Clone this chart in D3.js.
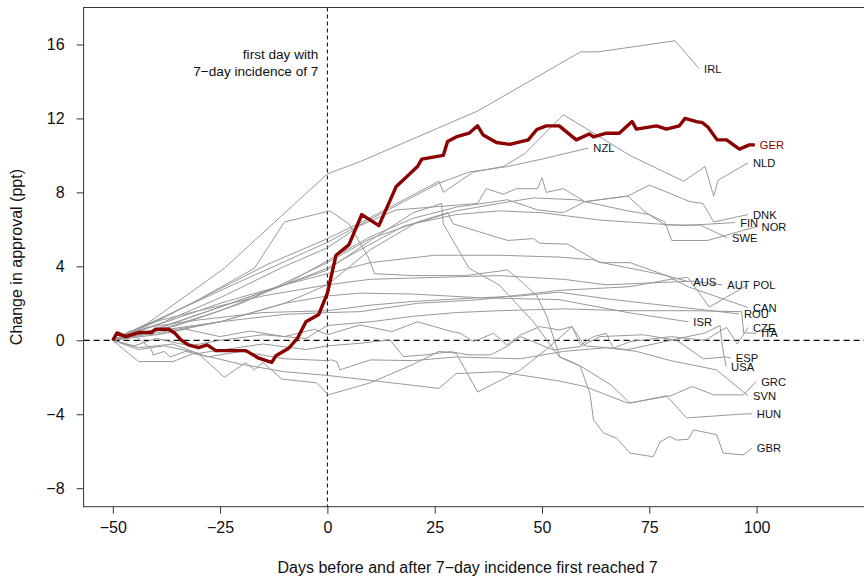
<!DOCTYPE html>
<html>
<head>
<meta charset="utf-8">
<script src="https://cdn.jsdelivr.net/npm/d3@7"></script>
<style>
  body { margin: 0; background: #fff; }
  text { font-family: "Liberation Sans", Arial, Helvetica, sans-serif; }
</style>
</head>
<body>
<script>
// approval change (ppt) by day relative to first day with 7-day incidence of 7
const GER = [[-50,0],[-49,0.4],[-47,0.2],[-44,0.42],[-41,0.42],[-40,0.6],[-37,0.6],[-35.5,0.38],[-34,0],[-32.4,-0.25],[-30,-0.4],[-28,-0.25],[-26,-0.56],[-19,-0.56],[-16,-0.97],[-13,-1.2],[-12,-0.84],[-9,-0.43],[-7,0.1],[-5,1.0],[-2,1.4],[0,2.55],[2,4.6],[5,5.16],[8,6.8],[12,6.2],[16,8.3],[21,9.4],[22,9.8],[27,10.0],[28,10.75],[30,11.0],[33,11.2],[35,11.6],[36.3,11.1],[39.4,10.7],[42.5,10.6],[46.8,10.84],[48.8,11.4],[51,11.6],[54,11.6],[58,10.84],[61,11.16],[62,11.0],[65,11.2],[68,11.2],[71,11.83],[72,11.42],[76.7,11.6],[79,11.42],[82,11.6],[83.3,12.0],[86,11.83],[87.4,11.77],[88.7,11.52],[90.8,10.84],[93,10.84],[96,10.34],[98.3,10.57],[99.6,10.57]];
const IRL = [[-50,0],[-42,0.9],[-24,3.9],[0,9.0],[8,9.7],[35,12.4],[59,15.6],[63,15.6],[81,16.2],[86.6,14.7]];
const NLD = [[-50,0],[-40,1.0],[-14,4.1],[0,5.5],[8,6.4],[26,8.6],[27,8.0],[34,9.1],[41,9.4],[46,10.1],[55,12.2],[70.5,10.0],[83,8.6],[88,9.4],[90,7.8],[91,8.65],[98,9.6]];
const NZL = [[-50,0],[-37,1.4],[-22,3.0],[0,5.3],[8,6.3],[26,8.5],[33,9.1],[42,9.4],[50,9.8],[60.8,10.4]];
const DNK = [[-50,0],[-38,1.0],[-25,2.3],[-10,4.0],[0,5.0],[7.6,6.2],[16,7.05],[35,7.4],[37,8.2],[41,7.9],[44,8.2],[49,8.2],[50,8.8],[51,8.0],[55,8.2],[60,7.5],[70,7.8],[75,8.4],[84.5,7.5],[87.5,7.4],[90,6.4],[98,6.8]];
const FIN = [[-50,0],[-40,0.6],[-25,1.8],[-10,3.0],[0,3.9],[10,5.2],[18,6.2],[30,6.8],[40,7.0],[50,6.9],[63.6,6.5],[83,6.2],[95,6.37]];
const NOR = [[-50,0],[-35,0.8],[-20,2.0],[0,4.2],[10,5.5],[20,6.3],[30,7.0],[40,7.4],[48,7.7],[58,7.6],[70,7.0],[75,6.8],[78.6,6.4],[80.2,5.4],[88.6,5.4],[100,6.15]];
const SWE = [[-50,0],[-40,0.5],[-25,1.6],[-10,3.0],[0,4.3],[10,5.6],[20,6.6],[30,7.2],[42,7.6],[49,7.05],[55,6.9],[60,7.5],[70,7.8],[74,6.95],[78.6,6.24],[86.8,6.24],[93.1,5.55]];
const AUS = [[-50,0],[-40,0.3],[-25,1.0],[-10,2.0],[0,3.0],[10,4.9],[21,6.4],[28,6.9],[29.3,6.3],[42,5.4],[48,5.5],[49.5,5.25],[56,5.2],[63.5,4.2],[70.5,4.2],[79,3.5],[84.1,3.17]];
const AUT = [[-50,0],[-42,0.9],[-30,1.6],[-15,2.4],[0,3.0],[10,3.3],[25,3.4],[40,3.5],[55,3.3],[65,3.0],[75,3.1],[85,3.2],[92,3.0]];
const POL = [[-50,0],[-40,0.5],[-25,1.0],[-10,1.4],[0,1.5],[7.6,1.55],[21,2.0],[35.6,2.2],[54,2.7],[70.5,2.9],[80,3.3],[84,3.4],[89,1.8],[98,3.0]];
const CAN = [[-50,0],[-40,0.8],[-25,2.0],[-10,3.0],[0,3.6],[10,4.2],[25,4.6],[40,4.6],[54,4.5],[62,4.35],[64,4.2],[79,3.5],[84,2.9],[98,1.77]];
const ROU = [[-50,0],[-40,0.4],[-25,1.0],[-10,2.0],[0,2.4],[7.6,2.55],[20,2.5],[35.6,2.3],[45,2.4],[54,2.6],[66.6,2.2],[95.9,1.43]];
const ISR = [[-50,0],[-42,0.7],[-30,1.1],[-15,1.5],[0,1.6],[10,1.9],[20,2.1],[35,2.3],[54,2.2],[70,1.5],[84.1,1.0]];
const CZE = [[-50,0],[-46,0.5],[-40,0.3],[-33,0.6],[-25,0.2],[-18,0.5],[-10,0.2],[-3,0.6],[0,0.3],[7.6,0.83],[15,0.47],[21,1.0],[29,0.47],[31,0.38],[34,-0.07],[38.7,0.38],[41.8,-0.25],[45,0.29],[49.5,0.74],[54,0.56],[57,0.74],[59,-0.25],[62,0.2],[65,0.38],[66.6,-0.43],[70.5,-0.07],[80,0.2],[88,0.0],[93,0.7],[95.5,-0.2],[98,0.69]];
const ITA = [[-50,0],[-45,-0.3],[-40,0.1],[-32,-0.3],[-25,0.0],[-15,0.3],[-5,0.1],[0,0.8],[10,1.0],[20,1.3],[30,1.5],[40,1.6],[55,1.7],[70,1.6],[85,1.6],[96.5,1.55],[97,0.4],[99.9,0.38]];
const ESP = [[-50,0],[-44,-0.5],[-38,-0.3],[-30,-0.7],[-24,-0.5],[-15,-0.2],[-5,-0.5],[0,-0.3],[7.6,-0.16],[14.6,0.02],[17.7,-0.88],[23,-0.79],[28.6,-0.61],[33,-0.79],[38,-0.79],[41.8,-0.34],[45,0.2],[48.8,-0.16],[52.6,-0.52],[59,-0.34],[63.5,0.2],[73.6,0.3],[81.4,0.0],[87.6,-1.0],[93,-0.9],[94,-0.97]];
const USA = [[-50,0],[-45,0.3],[-41,-0.5],[-40.6,-0.8],[-38,-0.6],[-36.7,-0.9],[-33,-0.6],[-29.7,-0.8],[-24,-2.0],[-19,-1.2],[-17,-1.6],[-15,-1.2],[-10.6,-2.1],[-2.5,-2.3],[0.2,-2.95],[10,-2.3],[20,-1.3],[26,-0.6],[30,-0.7],[35,-2.8],[45,-1.6],[51,-0.5],[57,0.74],[60,-0.3],[70,-0.5],[80,0.0],[88,0.4],[91.5,0.8],[92,-0.3],[92.9,-1.42]];
const SVN = [[-50,0],[-44,-0.4],[-36,-0.2],[-28,-0.9],[-20,-0.6],[-10,-1.0],[0,-1.1],[1,-1.06],[2.2,-1.15],[2.9,-1.6],[10,-1.06],[20,-1.1],[30,-0.9],[45,-1.0],[55,-0.6],[65,-0.4],[72,-0.6],[80,-1.1],[90.7,-1.6],[98,-3.0]];
const GRC = [[-50,0],[-44,-1.15],[-36,-1.15],[-31,-0.7],[-20,-1.3],[-10,-1.7],[0,-1.9],[7.6,-2.1],[26,-2.6],[30,-1.8],[40,-1.7],[54,-2.2],[60,-2.5],[70,-3.4],[80,-3.0],[85,-2.5],[90,-2.95],[97,-2.95],[99.9,-2.23]];
const HUN = [[-50,0],[-40,0.6],[-25,1.8],[-10,3.0],[0,3.8],[10,5.4],[20,6.9],[26.6,7.4],[27,6.3],[33,3.9],[40,3.0],[48,1.0],[54,-0.9],[57,-1.2],[59,-1.4],[66,-2.4],[70.5,-3.4],[79,-3.0],[83.7,-4.2],[96,-4.0],[98.9,-3.97]];
const GBR = [[-50,0],[-42,0.8],[-30,2.2],[-17,3.9],[-10,6.4],[0.6,7.0],[5,6.3],[9.5,4.5],[11,3.6],[20,3.5],[32,3.5],[42,3.8],[45.6,3.1],[48.8,2.4],[51.1,1.3],[52.6,0.2],[54.2,-0.9],[57.3,-1.2],[58.9,-1.4],[61.2,-2.9],[62,-4.3],[64.3,-5.0],[67.4,-5.3],[70.5,-6.1],[75.9,-6.3],[77.5,-5.5],[79.8,-5.2],[81.4,-5.4],[84.1,-5.35],[85.3,-4.85],[90.7,-5.1],[92.2,-6.1],[96.9,-6.2],[98.9,-5.84]];

const others = ['IRL','NLD','NZL','DNK','FIN','NOR','SWE','AUS','AUT','POL','CAN','ROU','ISR','CZE','ITA','ESP','USA','SVN','GRC','HUN','GBR'];
const seriesByName = {IRL, NLD, NZL, DNK, FIN, NOR, SWE, AUS, AUT, POL, CAN, ROU, ISR, CZE, ITA, ESP, USA, SVN, GRC, HUN, GBR, GER};

const xTicks = [-50, -25, 0, 25, 50, 75, 100];
const yTicks = [-8, -4, 0, 4, 8, 12, 16];

let width = 864, height = 579;
let box = {left: 83.6, top: 7.5, bottom: 506.7};

let svg = d3.select('body').append('svg')
    .attr('width', width)
    .attr('height', height);

let x = d3.scaleLinear()
    .domain([-56.8, 126.8])
    .range([box.left, box.left + 183.6 * 4.292]);
let y = d3.scaleLinear()
    .domain([-9, 18])
    .range([box.bottom, box.top]);

let minus = d => d < 0 ? '\u2212' + Math.abs(d) : String(d);

// reference lines
svg.append('line')
    .attr('x1', x(-56.8)).attr('x2', x(126.8))
    .attr('y1', y(0)).attr('y2', y(0))
    .attr('stroke', '#000').attr('stroke-width', 1.2)
    .attr('stroke-dasharray', '6,4');
svg.append('line')
    .attr('x1', x(0)).attr('x2', x(0))
    .attr('y1', y(18)).attr('y2', y(-9))
    .attr('stroke', '#000').attr('stroke-width', 1)
    .attr('stroke-dasharray', '4,3');

let line = d3.line()
    .x(d => x(d[0]))
    .y(d => y(d[1]));

let g = svg.append('g');

g.selectAll('.country')
    .data(others)
    .enter().append('path')
    .attr('class', 'country')
    .attr('d', c => line(seriesByName[c]))
    .attr('fill', 'none')
    .attr('stroke', '#999')
    .attr('stroke-width', 1);

g.append('path')
    .attr('d', line(GER))
    .attr('fill', 'none')
    .attr('stroke', '#8b0000')
    .attr('stroke-width', 3.4)
    .attr('stroke-linejoin', 'round');

// end labels
g.selectAll('.lab')
    .data(others.concat(['GER']))
    .enter().append('text')
    .attr('class', 'lab')
    .attr('x', c => x(seriesByName[c][seriesByName[c].length - 1][0]) + 5)
    .attr('y', c => y(seriesByName[c][seriesByName[c].length - 1][1]))
    .attr('dy', '0.36em')
    .attr('font-size', 11.2)
    .attr('fill', c => c === 'GER' ? '#8b0000' : '#111')
    .text(c => c);

// annotation
let ann = svg.append('text')
    .attr('text-anchor', 'end')
    .attr('font-size', 13.6)
    .attr('fill', '#111');
ann.append('tspan').attr('x', x(0) - 9).attr('y', y(15.2) ).text('first day with');
ann.append('tspan').attr('x', x(0) - 9).attr('y', y(14.3)).text('7\u2212day incidence of 7');

// axes
let xAxis = svg.append('g')
    .attr('transform', `translate(0,${box.bottom})`)
    .call(d3.axisBottom(x).tickValues(xTicks).tickSize(7).tickPadding(8).tickFormat(minus));
let yAxis = svg.append('g')
    .attr('transform', `translate(${box.left},0)`)
    .call(d3.axisLeft(y).tickValues(yTicks).tickSize(7).tickPadding(12).tickFormat(minus));
[xAxis, yAxis].forEach(a => {
    a.select('.domain').remove();
    a.selectAll('text').attr('font-size', 16).attr('fill', '#111')
        .style('font-family', '"Liberation Sans", Arial, sans-serif');
    a.selectAll('line').attr('stroke', '#333');
});

// box
svg.append('rect')
    .attr('x', box.left).attr('y', box.top)
    .attr('width', x(126.8) - box.left).attr('height', box.bottom - box.top)
    .attr('fill', 'none').attr('stroke', '#333').attr('stroke-width', 1);

svg.append('text')
    .attr('x', (x(-56.8) + x(126.8)) / 2 - 10)
    .attr('y', 573)
    .attr('text-anchor', 'middle')
    .attr('font-size', 16)
    .attr('fill', '#111')
    .text('Days before and after 7\u2212day incidence first reached 7');

svg.append('text')
    .attr('transform', `translate(22,${(box.top + box.bottom) / 2}) rotate(-90)`)
    .attr('text-anchor', 'middle')
    .attr('font-size', 16)
    .attr('fill', '#111')
    .text('Change in approval (ppt)');
</script>
</body>
</html>
